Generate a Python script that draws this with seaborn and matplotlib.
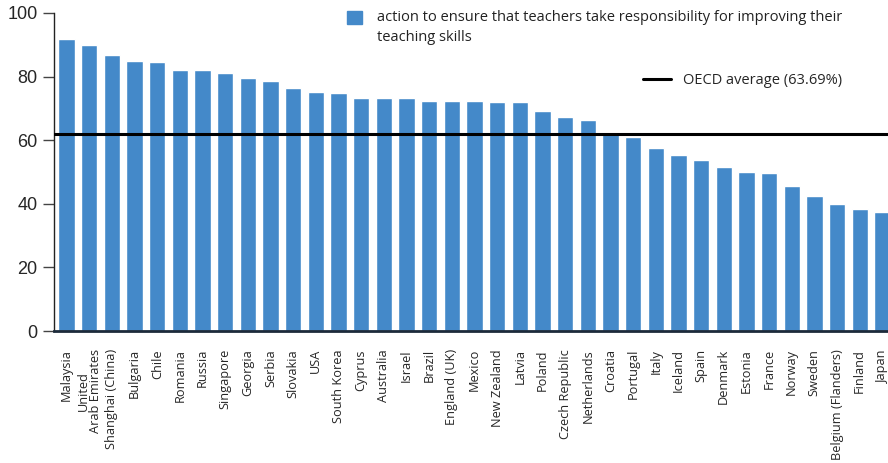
import matplotlib.pyplot as plt
import matplotlib.patches as mpatches
import matplotlib.lines as mlines
import pandas as pd
import seaborn as sns

countries = ["Malaysia", "United\nArab Emirates", "Shanghai (China)", "Bulgaria", "Chile",
             "Romania", "Russia", "Singapore", "Georgia", "Serbia", "Slovakia", "USA",
             "South Korea", "Cyprus", "Australia", "Israel", "Brazil", "England (UK)",
             "Mexico", "New Zealand", "Latvia", "Poland", "Czech Republic", "Netherlands",
             "Croatia", "Portugal", "Italy", "Iceland", "Spain", "Denmark", "Estonia",
             "France", "Norway", "Sweden", "Belgium (Flanders)", "Finland", "Japan"]
values = [91.8, 89.9, 86.8, 84.9, 84.6, 82.1, 82.1, 81.1, 79.6, 78.6, 76.4, 75.2,
          74.8, 73.3, 73.2, 73.2, 72.3, 72.3, 72.3, 72.0, 72.0, 69.2, 67.3, 66.4,
          62.1, 61.0, 57.5, 55.3, 53.8, 51.6, 50.0, 49.7, 45.6, 42.5, 39.9, 38.4, 37.4]
oecd_line = 62.1
series_label = "action to ensure that teachers take responsibility for improving their\nteaching skills"
oecd_label = "OECD average (63.69%)"

bar_color = "#4489c9"

df = pd.DataFrame({"country": countries, "value": values})

sns.set_style("white")
plt.rcParams["font.family"] = ["Open Sans", "DejaVu Sans"]

fig = plt.figure(figsize=(8.88, 4.63), dpi=100)
ax = fig.add_axes([0.061, 0.285, 0.939, 0.687])

sns.barplot(data=df, x="country", y="value", color=bar_color, width=0.72,
            saturation=1, ax=ax)
ax.axhline(oecd_line, color="black", lw=2.2, zorder=5)

ax.set_xlim(-0.55, 36.25)
ax.set_ylim(0, 100)
ax.set_yticks([0, 20, 40, 60, 80, 100])
ax.set_xlabel("")
ax.set_ylabel("")

for s in ["top", "right"]:
    ax.spines[s].set_visible(False)
ax.spines["left"].set_color("#222222")
ax.spines["left"].set_linewidth(1.0)
ax.spines["bottom"].set_color("#1c2a3a")
ax.spines["bottom"].set_linewidth(2.0)

ax.tick_params(axis="y", direction="out", length=8, width=1.0, color="#444444",
               pad=4, labelsize=13, left=True)
for lab in ax.get_yticklabels():
    lab.set_family(["Liberation Sans", "DejaVu Sans"])
ax.tick_params(axis="x", length=0, pad=13)
ax.set_xticks(range(len(countries)))
ax.set_xticklabels(countries, rotation=90, fontsize=9.2, va="top", ha="center",
                   linespacing=0.95)

# series key: square next to the first line of a two-line label
W, H = 888, 463
fig.patches.append(mpatches.Rectangle((347 / W, 1 - 24 / H), 15 / W, 13 / H,
                                      transform=fig.transFigure, color=bar_color))
fig.text(377 / W, 1 - 10 / H, series_label, fontsize=10.5, va="top", ha="left",
         linespacing=1.45, color="#222222")

h_line = mlines.Line2D([], [], color="black", lw=2.2)
fig.legend(handles=[h_line], labels=[oecd_label], loc="upper left",
           bbox_to_anchor=(0.718, 0.855), frameon=False, fontsize=10.5,
           handlelength=1.9, handletextpad=0.8, borderaxespad=0)

fig.savefig("out.png", dpi=100)
